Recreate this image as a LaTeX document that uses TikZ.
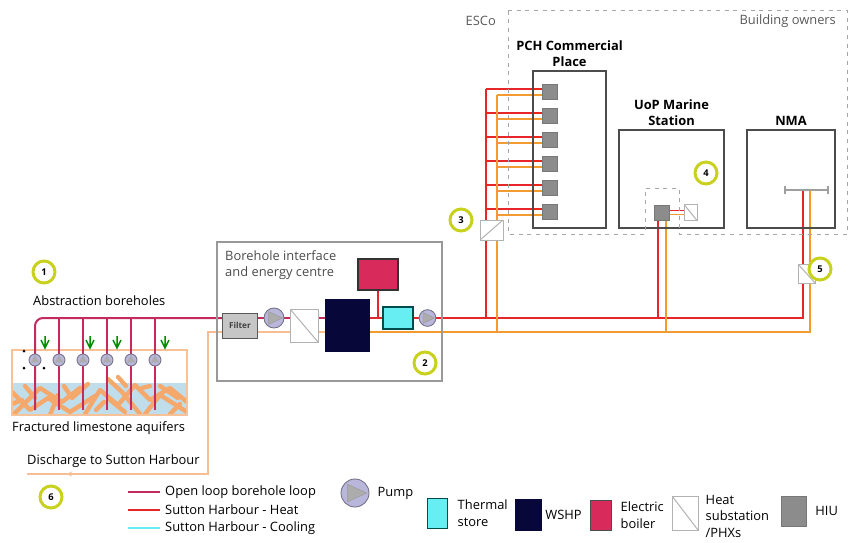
\documentclass[tikz,border=0pt]{standalone}
\usepackage{fontspec}
\setmainfont{Open Sans}
\usetikzlibrary{positioning,calc,arrows.meta}
\definecolor{loopc}{HTML}{C42B5C}
\definecolor{heatc}{HTML}{E8262A}
\definecolor{retc}{HTML}{F39A30}
\definecolor{dischc}{HTML}{F6BE92}
\definecolor{coolc}{HTML}{66EEF2}
\definecolor{ringc}{HTML}{C8D21E}
\definecolor{hiuc}{HTML}{8C8C8C}
\definecolor{boilc}{HTML}{D92B5B}
\definecolor{wshpc}{HTML}{07073A}
\definecolor{pumpc}{HTML}{B9B6DB}
\definecolor{aquic}{HTML}{BFDDEA}
\definecolor{crackc}{HTML}{F5A86C}
\pgfdeclarelayer{background}
\pgfdeclarelayer{pipes}
\pgfsetlayers{background,pipes,main}

\begin{document}
\begin{tikzpicture}[x=0.3mm, y=-0.3mm,
  font=\fontsize{11}{14}\selectfont,
  heat/.style={heatc, line width=0.75mm},
  ret/.style={retc, line width=0.6mm},
  loop/.style={loopc, line width=0.6mm},
  disch/.style={dischc, line width=0.45mm},
  building/.style={draw=black!70, line width=0.55mm, inner sep=0pt},
  title/.style={font=\fontsize{11}{13.5}\selectfont\bfseries, align=center, inner sep=1pt},
  hiu/.style={fill=hiuc, draw=hiuc!85!black, minimum size=4.5mm, inner sep=0pt},
  phx/.style={draw=gray!60, fill=white, line width=0.3mm, inner sep=0pt,
    path picture={\draw[gray!60, line width=0.3mm] (path picture bounding box.north west) -- (path picture bounding box.south east);}},
  phxb/.style={draw=gray!60, fill=white, line width=0.3mm, inner sep=0pt,
    path picture={\draw[gray!60, line width=0.3mm] (path picture bounding box.south west) -- (path picture bounding box.north east);}},
  pump/.style={circle, draw=pumpc!60!black, fill=pumpc, line width=0.25mm, inner sep=0pt},
  num/.style={circle, draw=ringc, line width=0.9mm, fill=white, minimum size=6.6mm, inner sep=0pt, font=\fontsize{8}{9}\selectfont\bfseries},
  txt/.style={inner sep=0pt, anchor=west, align=left}
]
  \useasboundingbox (0,0) rectangle (859,542);

  % Energy centre
  \node[draw=gray!80, line width=0.35mm, minimum width=67.5mm, minimum height=41.7mm] (ec) at (329.5,311.5) {};
  \node[txt, anchor=north west, text=black!70] at (225,250) {Borehole interface\\and energy centre};
  \node[draw=gray!70!black, fill=gray!45, minimum width=10.5mm, minimum height=7.5mm, inner sep=0pt, font=\bfseries\scriptsize, text=black!75] (filter) at (240,325.5) {Filter};
  \node[pump, minimum size=6mm] (pump1) at (274,318) {};
  \node[phx, minimum width=8.4mm, minimum height=9.9mm] (phx1) at (304,325.5) {};
  \node[fill=wshpc, draw=wshpc, minimum width=13.2mm, minimum height=15.6mm] (wshp) at (347,325) {};
  \node[fill=boilc, draw=black!80, line width=0.35mm, minimum width=12mm, minimum height=9.3mm] (boiler) at (378,274.5) {};
  \node[fill=coolc, draw=teal!60!black, line width=0.35mm, minimum width=9mm, minimum height=6.6mm] (tstore) at (398,318) {};
  \node[pump, minimum size=5mm] (pump2) at (427.5,318) {};

  % Buildings
  \node[building, minimum width=21.9mm, minimum height=47.1mm] (pch) at (569.5,149.5) {};
  \node[title, above=0.6mm of pch] {PCH Commercial\\Place};
  \node[building, minimum width=31.5mm, minimum height=29.4mm] (uop) at (671.5,179) {};
  \node[title, above=0.6mm of uop] {UoP Marine\\Station};
  \node[building, minimum width=26.4mm, minimum height=29.4mm] (nma) at (791,179) {};
  \node[title, above=0.6mm of nma] {NMA};

  % HIUs and substations
  \foreach \i/\y in {1/92,2/116,3/140,4/164,5/188,6/212} {
    \node[hiu] (hiu\i) at (550,\y) {};
    \coordinate (h\i) at ([yshift=0.9mm]hiu\i.west);
    \coordinate (o\i) at ([yshift=-0.9mm]hiu\i.west);
  }
  \node[hiu] (uhiu) at (661.5,212.5) {};
  \node[phx, minimum width=3.9mm, minimum height=4.8mm] (uphx) at (690.5,212.5) {};
  \node[phxb, minimum width=6.9mm, minimum height=6mm] (phx3) at (491.5,230) {};
  \node[phx, minimum width=5.1mm, minimum height=5.7mm] (phx5) at (806.5,273.5) {};

  % NMA manifold
  \coordinate (nmaH) at (803,190);
  \coordinate (nmaO) at (810,190);
  \draw[gray!75, line width=0.6mm, {Bar[width=2.4mm]}-{Bar[width=2.4mm]}] (784,190) -- (829,190);

  % ESCo / building owners split
  \draw[gray!70, line width=0.3mm, dash pattern=on 1.2mm off 1.4mm] (508,10) -- (847,10) -- (847,234) -- (679,234) -- (679,188) -- (645,188) -- (645,234) -- (508,234) -- cycle;
  \node[text=black!65, anchor=east] at (500,21) {ESCo};
  \node[text=black!65, anchor=east] at (840,21) {Building owners};

  % Boreholes
  \foreach \x [count=\i] in {35,59,83,107,131,155}
    \node[pump, minimum size=3.6mm] (bp\i) at (\x,360) {};
  \foreach \x in {45,90,117,165}
    \draw[green!55!black, line width=0.45mm] (\x,336) -- (\x,348) (\x-4,340) -- (\x,348) -- (\x+4,340);
  \foreach \p in {(24,351),(24,368),(44,368)}
    \fill \p circle (0.45mm);
  \node[txt] at (33,301) {Abstraction boreholes};
  \node[txt] at (12,428) {Fractured limestone aquifers};
  \node[txt] at (27,461) {Discharge to Sutton Harbour};

  % pump triangles
  \foreach \p in {pump1,pump2}
    \fill[gray!65, draw=gray!80] ($(\p)!0.8!(\p.130)$) -- ($(\p)!0.8!(\p.230)$) -- ($(\p)!0.8!(\p.0)$) -- cycle;
  \foreach \i in {1,...,6}
    \fill[gray!65] ($(bp\i)!0.75!(bp\i.90)$) -- ($(bp\i)!0.75!(bp\i.210)$) -- ($(bp\i)!0.75!(bp\i.330)$) -- cycle;

  % Aquifer
  \begin{pgfonlayer}{background}
    \fill[aquic] (12,383) rectangle (187,415);
    \begin{scope}
      \clip (12,374) rectangle (187,415);
      \draw[crackc, line width=1.3mm, line join=round, line cap=round]
        (12,392) -- (30,410) -- (48,398) -- (70,412) -- (95,396)
        (15,413) -- (40,388) -- (62,402) -- (80,388)
        (50,415) -- (58,395)
        (85,414) -- (100,390) -- (118,405) -- (135,385) -- (150,400) -- (170,388) -- (187,402)
        (108,379) -- (122,392) -- (140,414)
        (118,377) -- (126,386)
        (145,414) -- (160,395) -- (187,412)
        (160,386) -- (178,398)
        (25,386) -- (35,398)
        (125,412) -- (110,400)
        (12,404) -- (22,400)
        (64,386) -- (72,398) -- (88,384)
        (96,410) -- (104,402)
        (142,388) -- (150,386)
        (170,414) -- (180,404);
    \end{scope}
    \draw[crackc!70, line width=0.4mm] (12,350) rectangle (187,415);
  \end{pgfonlayer}

  % Pipework
  \begin{pgfonlayer}{pipes}
    \coordinate (lhead) at (35,318);
    \coordinate (bbot) at (0,410);
    \coordinate (dtop) at (208,332);
    \coordinate (dbot) at (208,474);
    \coordinate (dmark) at (67,474);
    \coordinate (dend) at (27,474);
    \coordinate (pchH) at (486,318);
    \coordinate (pchO) at (497,332);
    \coordinate (uopH) at (658,318);
    \coordinate (uopO) at (666,332);

    % open loop
    \draw[loop, rounded corners=2.4mm] (bp1 |- bbot) -- (lhead) -- (filter.west |- lhead);
    \foreach \i in {2,...,6}
      \draw[loop] (bp\i |- bbot) -- (bp\i |- lhead);
    \draw[loop] (filter.east |- lhead) -- (pump1) -- (phx1.west |- lhead)
      (phx1.east |- lhead) -- (wshp.west |- lhead);

    % discharge
    \draw[disch] (wshp.west |- dtop) -- (dtop) -- (dbot) -- (dmark);
    \draw[disch, -{Stealth[length=1.5mm, width=1.5mm]}] (dbot) -- (dmark);
    \draw[disch] (dmark) -- (dend);

    % heat
    \draw[heat] (wshp.east |- lhead) -- (tstore.west);
    \draw[heat] (tstore.east) -- (pump2.west);
    \draw[heat] (pump2.east) -| (nmaH);
    \draw[heat] (boiler.south) -- (boiler.south |- lhead);
    \draw[heat] (pchH) -- (h1 -| pchH);
    \foreach \i in {1,...,6}
      \draw[heat, line width=0.6mm] (h\i -| pchH) -- (h\i);
    \draw[heat] (uopH) -- (uopH |- uhiu.south);
    \draw[heat, line width=0.45mm] ([yshift=0.6mm]uhiu.east) -- ([yshift=0.6mm]uphx.west);

    % return
    \draw[ret] (wshp.east |- dtop) -| (nmaO);
    \draw[ret] (pchO) -- (o1 -| pchO);
    \foreach \i in {1,...,6}
      \draw[ret, line width=0.5mm] (o\i -| pchO) -- (o\i);
    \draw[ret] (uopO) -- (uopO |- uhiu.south);
    \draw[ret, line width=0.45mm] ([yshift=-0.6mm]uhiu.east) -- ([yshift=-0.6mm]uphx.west);
  \end{pgfonlayer}

  % Numbered markers
  \node[num] (n1) at (44,272) {1};
  \node[num] (n2) at (425,363) {2};
  \node[num] (n3) at (461,220) {3};
  \node[num] (n4) at (706,173) {4};
  \node[num] (n5) at (820,269) {5};
  \node[num] (n6) at (51,497) {6};

  % Legend
  \node[txt] (lg1) at (165,492) {Open loop borehole loop};
  \node[txt] (lg2) at (165,510) {Sutton Harbour - Heat};
  \node[txt] (lg3) at (165,528) {Sutton Harbour - Cooling};
  \draw[loop, line width=0.7mm] ([xshift=-1.5mm]lg1.west) -- ++(-9.6mm,0);
  \draw[heat, line width=0.7mm] ([xshift=-1.5mm]lg2.west) -- ++(-9.6mm,0);
  \draw[coolc, line width=0.7mm] ([xshift=-1.5mm]lg3.west) -- ++(-9.6mm,0);

  \node[pump, minimum size=8.4mm] (lpump) at (355,493) {};
  \fill[gray!65, draw=gray!80] ($(lpump)!0.8!(lpump.130)$) -- ($(lpump)!0.8!(lpump.230)$) -- ($(lpump)!0.8!(lpump.0)$) -- cycle;
  \node[txt, right=2.4mm of lpump] {Pump};
  \node[fill=coolc, draw=teal!60!black, line width=0.3mm, minimum width=6mm, minimum height=9mm] (ltstore) at (437,513) {};
  \node[txt, right=3mm of ltstore] {Thermal\\store};
  \node[fill=wshpc, draw=wshpc, minimum width=7.8mm, minimum height=9.3mm] (lwshp) at (528,514.5) {};
  \node[txt, right=1.2mm of lwshp] {WSHP};
  \node[fill=boilc, draw=black!70, line width=0.3mm, minimum width=6.3mm, minimum height=9mm] (lboiler) at (600.5,515) {};
  \node[txt, right=2.7mm of lboiler] {Electric\\boiler};
  \node[phx, minimum width=7.8mm, minimum height=10.2mm] (lphx) at (685,513) {};
  \node[txt, right=2.1mm of lphx, yshift=-1mm] {Heat\\substation\\/PHXs};
  \node[hiu, minimum width=7.5mm, minimum height=9mm] (lhiu) at (793.5,511) {};
  \node[txt, right=2.7mm of lhiu] {HIU};
\end{tikzpicture}
\end{document}
